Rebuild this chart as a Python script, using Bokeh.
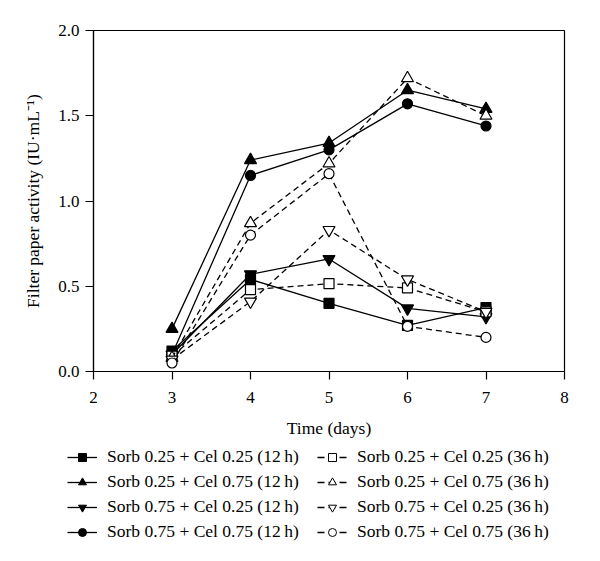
from bokeh.plotting import figure
from bokeh.models import Legend, LegendItem, Range1d, FixedTicker, CustomJSTickFormatter
from bokeh.embed import file_html
from bokeh.resources import INLINE

days = [3, 4, 5, 6, 7]

s25c25_12 = [0.12, 0.54, 0.40, 0.27, 0.375]
s25c75_12 = [0.25, 1.24, 1.34, 1.65, 1.54]
s75c25_12 = [0.10, 0.57, 0.66, 0.37, 0.32]
s75c75_12 = [0.10, 1.15, 1.30, 1.57, 1.44]

s25c25_36 = [0.09, 0.48, 0.515, 0.49, 0.35]
s25c75_36 = [0.08, 0.87, 1.22, 1.72, 1.50]
s75c25_36 = [0.07, 0.41, 0.83, 0.54, 0.35]
s75c75_36 = [0.05, 0.80, 1.16, 0.265, 0.20]

labels = [
    "Sorb 0.25 + Cel 0.25 (12\u2009h)",
    "Sorb 0.25 + Cel 0.75 (12\u2009h)",
    "Sorb 0.75 + Cel 0.25 (12\u2009h)",
    "Sorb 0.75 + Cel 0.75 (12\u2009h)",
    "Sorb 0.25 + Cel 0.25 (36\u2009h)",
    "Sorb 0.25 + Cel 0.75 (36\u2009h)",
    "Sorb 0.75 + Cel 0.25 (36\u2009h)",
    "Sorb 0.75 + Cel 0.75 (36\u2009h)",
]

x_ticks = [2, 3, 4, 5, 6, 7, 8]
y_ticks = [0.0, 0.5, 1.0, 1.5, 2.0]

FONT = "Liberation Serif"

p = figure(frame_width=471, frame_height=341, output_backend="svg", toolbar_location=None,
           x_range=Range1d(2, 8), y_range=Range1d(0, 2),
           min_border_left=93, min_border_top=30, min_border_right=36, min_border_bottom=70)

p.xgrid.visible = False
p.ygrid.visible = False
p.outline_line_color = "black"
p.outline_line_width = 1.2
p.background_fill_color = "white"
p.border_fill_color = "white"

for ax in (p.xaxis[0], p.yaxis[0]):
    ax.axis_line_color = "black"
    ax.axis_line_width = 1.2
    ax.major_tick_out = 8
    ax.major_tick_in = 0
    ax.minor_tick_out = 0
    ax.minor_tick_in = 0
    ax.major_tick_line_color = "black"
    ax.major_tick_line_width = 1.2
    ax.major_label_text_font = FONT
    ax.major_label_text_font_size = "17px"
    ax.major_label_text_color = "black"
    ax.axis_label_text_font = FONT
    ax.axis_label_text_font_size = "17.5px"
    ax.axis_label_text_font_style = "normal"
    ax.axis_label_text_color = "black"

p.xaxis.ticker = FixedTicker(ticks=x_ticks)
p.yaxis.ticker = FixedTicker(ticks=y_ticks)
p.yaxis.formatter = CustomJSTickFormatter(code="return tick.toFixed(1);")
p.xaxis.axis_label = "Time (days)"
p.yaxis.axis_label = "Filter paper activity (IU\u00b7mL\u207b\u00b9)"
p.xaxis.major_label_standoff = 12
p.xaxis.axis_label_standoff = 12
p.yaxis.major_label_standoff = 6
p.yaxis.axis_label_standoff = 12

series = [
    (s25c25_12, "square", "black", "solid", 10),
    (s25c75_12, "triangle", "black", "solid", 12),
    (s75c25_12, "inverted_triangle", "black", "solid", 12),
    (s75c75_12, "circle", "black", "solid", 10),
    (s25c25_36, "square", "white", "dashed", 10),
    (s25c75_36, "triangle", "white", "dashed", 12),
    (s75c25_36, "inverted_triangle", "white", "dashed", 12),
    (s75c75_36, "circle", "white", "dashed", 10),
]

for vals, marker, fill, dash, size in series:
    ld = "solid" if dash == "solid" else "6 4"
    p.line(days, vals, line_color="black", line_width=1.3, line_dash=ld)
    p.scatter(days, vals, marker=marker, size=size, fill_color=fill,
              line_color="black", line_width=1.2)

# Legend figure (legend-only panel below the chart, separate root)
lf = figure(width=600, height=120, output_backend="svg", toolbar_location=None,
            x_range=Range1d(100, 101), y_range=Range1d(100, 101),
            x_axis_location=None, y_axis_location=None,
            min_border_left=0, min_border_right=0, min_border_top=0, min_border_bottom=0)
lf.xgrid.visible = False
lf.ygrid.visible = False
lf.outline_line_color = None
lf.background_fill_color = "white"
lf.border_fill_color = "white"

legend_items = []
for (vals, marker, fill, dash, size), lab in zip(series, labels):
    ld = "solid" if dash == "solid" else "7 4"
    ln = lf.line(days, vals, line_color="black", line_width=1.3, line_dash=ld)
    sc = lf.scatter(days, vals, marker=marker, size=size * 0.55, fill_color=fill,
                    line_color="black", line_width=1.0)
    legend_items.append(LegendItem(label=lab, renderers=[ln, sc]))

common = dict(label_text_font=FONT, label_text_font_size="17.5px",
              label_text_color="black",
              glyph_width=30, glyph_height=20, label_height=20, label_standoff=10,
              spacing=4, padding=0, margin=0,
              border_line_color=None, background_fill_alpha=0)

leg_left = Legend(items=legend_items[:4], location=(67, 19), **common)
leg_right = Legend(items=legend_items[4:], location=(317, 19), **common)
lf.add_layout(leg_left, "center")
lf.add_layout(leg_right, "center")

open("out.html", "w").write(file_html([p, lf], INLINE))
